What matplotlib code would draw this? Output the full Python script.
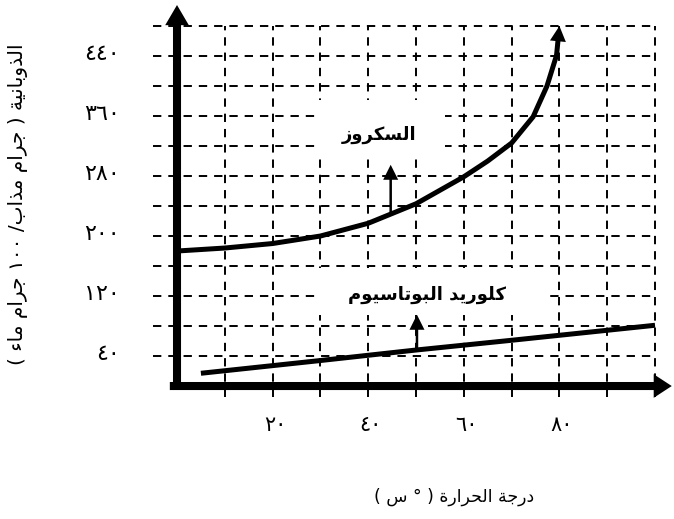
import matplotlib
matplotlib.use("Agg")
import matplotlib.pyplot as plt
from matplotlib.patches import Rectangle

plt.rcParams['font.family'] = ['DejaVu Sans']
plt.rcParams['lines.scale_dashes'] = False

# data
sucrose_t = [0, 10, 20, 30, 40, 50, 60, 65, 70, 74.5, 77.4, 79.4, 80]
sucrose_s = [180, 184, 190, 200, 217, 243, 279, 300, 324, 359, 400, 441, 480]
kcl_t = [5, 30, 50, 70, 100]
kcl_s = [17, 34, 48, 61, 81]

x_ticks = [20, 40, 60, 80]
x_ticklabels = ['٢٠', '٤٠', '٦٠', '٨٠']
y_ticks = [40, 120, 200, 280, 360, 440]
y_ticklabels = ['٤٠', '١٢٠', '٢٠٠', '٢٨٠', '٣٦٠', '٤٤٠']
grid_x = [10, 20, 30, 40, 50, 60, 70, 80, 90, 100]
grid_y = [40, 80, 120, 160, 200, 240, 280, 320, 360, 400, 440, 480]

# simple arabic shaping (matplotlib does no shaping / bidi)
FORMS = {
    'ا': ('\uFE8D', '\uFE8E', None, None),
    'ب': ('\uFE8F', '\uFE90', '\uFE91', '\uFE92'),
    'ة': ('\uFE93', '\uFE94', None, None),
    'ت': ('\uFE95', '\uFE96', '\uFE97', '\uFE98'),
    'ج': ('\uFE9D', '\uFE9E', '\uFE9F', '\uFEA0'),
    'ح': ('\uFEA1', '\uFEA2', '\uFEA3', '\uFEA4'),
    'د': ('\uFEA9', '\uFEAA', None, None),
    'ذ': ('\uFEAB', '\uFEAC', None, None),
    'ر': ('\uFEAD', '\uFEAE', None, None),
    'ز': ('\uFEAF', '\uFEB0', None, None),
    'س': ('\uFEB1', '\uFEB2', '\uFEB3', '\uFEB4'),
    'ك': ('\uFED9', '\uFEDA', '\uFEDB', '\uFEDC'),
    'ل': ('\uFEDD', '\uFEDE', '\uFEDF', '\uFEE0'),
    'م': ('\uFEE1', '\uFEE2', '\uFEE3', '\uFEE4'),
    'ن': ('\uFEE5', '\uFEE6', '\uFEE7', '\uFEE8'),
    'و': ('\uFEED', '\uFEEE', None, None),
    'ي': ('\uFEF1', '\uFEF2', '\uFEF3', '\uFEF4'),
    'ء': ('\uFE80', None, None, None),
}


def shape(word):
    out = []
    for i, c in enumerate(word):
        f = FORMS.get(c)
        if f is None:
            out.append(c)
            continue
        prev = word[i - 1] if i > 0 else None
        nxt = word[i + 1] if i + 1 < len(word) else None
        jp = prev in FORMS and FORMS[prev][2] is not None and f[1] is not None
        jn = nxt in FORMS and f[2] is not None and FORMS[nxt][1] is not None
        if jp and jn:
            out.append(f[3])
        elif jp:
            out.append(f[1])
        elif jn:
            out.append(f[2])
        else:
            out.append(f[0])
    return ''.join(reversed(out))


def rtl(sentence):
    return ' '.join(shape(w) for w in reversed(sentence.split(' ')))


sucrose_label = shape('السكروز')
kcl_label = rtl('كلوريد البوتاسيوم')
# labels written in visual order, left to right
xlabel = '( ' + shape('س') + ' ° ) ' + rtl('درجة الحرارة')
ylabel = '( ' + rtl('جرام ماء') + ' ١٠٠ /' + rtl('جرام مذاب') + ' ) ' + shape('الذوبانية')

fig = plt.figure(figsize=(6.74, 5.19), dpi=100)
ax = fig.add_axes([0, 0, 1, 1])
ax.set_xlim(-37.03, 103.97)
ax.set_ylim(-177.3, 514.7)
ax.set_axis_off()

# dashed grid
ax.vlines(grid_x, -15, 480, colors='k', linewidth=1.4, linestyles=(0, (6, 5)), zorder=1)
ax.hlines(grid_y, -5, 100, colors='k', linewidth=1.4, linestyles=(0, (6, 5)), zorder=1)

# white boxes behind the labels
ax.add_patch(Rectangle((29.5, 305), 26.5, 77, facecolor='white', edgecolor='none', zorder=2))
ax.add_patch(Rectangle((29.5, 95), 47.5, 62, facecolor='white', edgecolor='none', zorder=2))

# axes with arrow heads
ax.annotate('', xy=(0, 508), xytext=(0, -4),
            arrowprops=dict(width=5.8, headwidth=17, headlength=14.5, facecolor='k',
                            edgecolor='none', shrink=0), zorder=5)
ax.annotate('', xy=(103.5, 0), xytext=(-1.5, 0),
            arrowprops=dict(width=5.8, headwidth=17, headlength=13, facecolor='k',
                            edgecolor='none', shrink=0), zorder=5)

# curves
ax.plot(sucrose_t[:-1], sucrose_s[:-1], color='k', linewidth=3.6, zorder=4,
        solid_capstyle='butt', solid_joinstyle='round')
ax.annotate('', xy=(sucrose_t[-1], sucrose_s[-1]), xytext=(sucrose_t[-2], sucrose_s[-2]),
            arrowprops=dict(width=3.6, headwidth=11.5, headlength=11, facecolor='k',
                            edgecolor='none', shrink=0), zorder=4)
ax.plot(kcl_t, kcl_s, color='k', linewidth=3.6, zorder=4, solid_capstyle='butt')

# label pointers
ax.annotate('', xy=(44.7, 295), xytext=(44.7, 228),
            arrowprops=dict(width=1.8, headwidth=10.8, headlength=10.8, facecolor='k',
                            edgecolor='none', shrink=0), zorder=4)
ax.annotate('', xy=(50.2, 95), xytext=(50.2, 48),
            arrowprops=dict(width=1.8, headwidth=10.8, headlength=10.8, facecolor='k',
                            edgecolor='none', shrink=0), zorder=4)

ax.text(42.3, 335, sucrose_label, ha='center', va='center', fontsize=13,
        fontweight='bold', zorder=6)
ax.text(52.3, 121, kcl_label, ha='center', va='center', fontsize=13,
        fontweight='bold', zorder=6)

for v, lab in zip(y_ticks, y_ticklabels):
    ax.text(-11.9, v + 3, lab, ha='right', va='center', fontsize=16)
for v, lab in zip(x_ticks, x_ticklabels):
    ax.text(v + 0.5, -52, lab, ha='center', va='center', fontsize=15)

ax.text(58, -148, xlabel, ha='center', va='center', fontsize=12.5)
ax.text(-33.3, 243, ylabel, ha='center', va='center', rotation=90, fontsize=14.5)

fig.savefig('out.png', dpi=100)
